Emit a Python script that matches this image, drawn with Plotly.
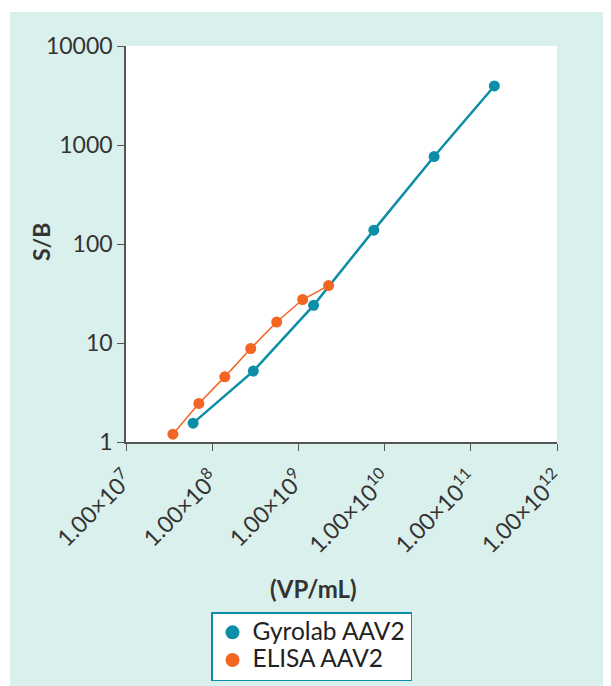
import plotly.graph_objects as go

# Data
gyro_conc = [6.0e7, 3.0e8, 1.5e9, 7.5e9, 3.75e10, 1.875e11]
gyro_sb = [1.55, 5.2, 24.0, 138, 765, 3950]
elisa_conc = [3.5e7, 7.0e7, 1.4e8, 2.8e8, 5.6e8, 1.12e9, 2.24e9]
elisa_sb = [1.2, 2.45, 4.55, 8.8, 16.3, 27.5, 38.0]
series_names = ["Gyrolab AAV2", "ELISA AAV2"]
x_tickvals = [1e7, 1e8, 1e9, 1e10, 1e11, 1e12]
x_ticktext = ["1.00×10<sup>%d</sup>" % p for p in range(7, 13)]
y_tickvals = [1, 10, 100, 1000, 10000]
y_ticktext = ["1", "10", "100", "1000", "10000"]

TEAL = "#0b8ea6"
ORANGE = "#f26522"
BG = "#daf0ec"
FONT = "Lato"

OFF = 8  # page body margin
W, H = 611 - OFF, 686 - OFF
L, T = 126 - OFF, 46 - OFF
R = W - (557 - OFF)
B = H - (442 - OFF)
pw, ph = W - L - R, H - T - B

fig = go.Figure()
fig.add_trace(go.Scatter(x=gyro_conc, y=gyro_sb, mode="lines+markers",
                         line=dict(color=TEAL, width=2.5),
                         marker=dict(color=TEAL, size=11), showlegend=False))
fig.add_trace(go.Scatter(x=elisa_conc, y=elisa_sb, mode="lines+markers",
                         line=dict(color=ORANGE, width=1.5),
                         marker=dict(color=ORANGE, size=11), showlegend=False))
# legend entries (markers only)
for name, col in zip(series_names, [TEAL, ORANGE]):
    fig.add_trace(go.Scatter(x=[None], y=[None], mode="markers",
                             name='<span style="font-size:24.5px">%s</span>' % name,
                             marker=dict(color=col, size=14)))

def px_x(p):
    return (p - OFF - L) / pw

def px_y(p):
    return 1 - (p - OFF - T) / ph

fig.update_layout(
    width=W, height=H,
    margin=dict(l=L, r=R, t=T, b=B, autoexpand=False),
    paper_bgcolor=BG, plot_bgcolor="white",
    font=dict(family=FONT, color="#333333"),
    xaxis=dict(type="log", range=[7, 12], tickvals=x_tickvals, ticktext=x_ticktext,
               tickangle=-45, ticks="outside", ticklen=7, tickcolor="#555",
               showline=True, linecolor="#555", linewidth=1.5, showgrid=False,
               zeroline=False, automargin=False, ticklabelstandoff=6,
               tickfont=dict(size=23, family=FONT, color="#333")),
    yaxis=dict(type="log", range=[0, 4], tickvals=y_tickvals, ticktext=y_ticktext,
               ticks="outside", ticklen=7, tickcolor="#555",
               showline=True, linecolor="#555", linewidth=1.5, showgrid=False,
               zeroline=False, automargin=False,
               tickfont=dict(size=23, family=FONT, color="#333")),
    legend=dict(x=px_x(211), y=px_y(681), xanchor="left", yanchor="bottom",
                bgcolor="white", bordercolor=TEAL, borderwidth=1.5,
                font=dict(size=19, family=FONT, color="#222"),
                itemwidth=30, tracegroupgap=0),
    shapes=[
        dict(type="rect", xref="paper", yref="paper", x0=px_x(-5), x1=px_x(10),
             y0=px_y(H + 20), y1=px_y(-5), fillcolor="white", line=dict(width=0), layer="below"),
        dict(type="rect", xref="paper", yref="paper", x0=px_x(-5), x1=px_x(W + 20),
             y0=px_y(12), y1=px_y(-5), fillcolor="white", line=dict(width=0), layer="below"),
    ],
    annotations=[
        dict(text="<b>S/B</b>", xref="paper", yref="paper", x=px_x(41), y=px_y(242),
             xanchor="center", yanchor="middle",
             textangle=-90, showarrow=False, font=dict(size=23, family=FONT, color="#333")),
        dict(text="<b>(VP/mL)</b>", xref="paper", yref="paper", x=px_x(313), y=px_y(588),
             xanchor="center", yanchor="middle",
             showarrow=False, font=dict(size=24, family=FONT, color="#333")),
    ],
)

fig.write_html("out.html")
